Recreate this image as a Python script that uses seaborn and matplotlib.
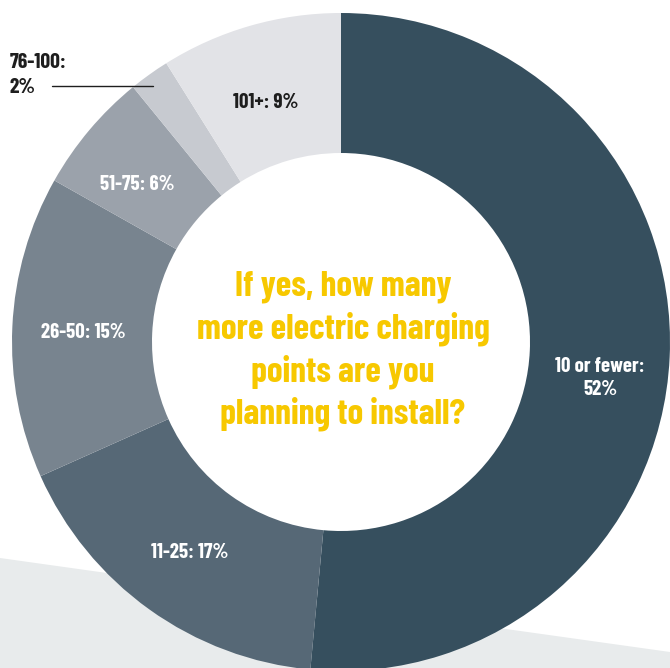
import matplotlib
matplotlib.use("Agg")
import matplotlib.pyplot as plt
import seaborn as sns
from matplotlib.patches import Polygon

categories = ["10 or fewer", "11-25", "26-50", "51-75", "76-100", "101+"]
values = [52, 17, 15, 6, 2, 9]
label_texts = ["10 or fewer:\n52%", "11-25: 17%", "26-50: 15%", "51-75: 6%", "76-100:\n2%", "101+: 9%"]
title_text = "If yes, how many\nmore electric charging\npoints are you\nplanning to install?"

sns.set_theme(style="white")
plt.rcParams['font.family'] = ["Barlow Condensed", "DejaVu Sans"]

colors = ["#364f5e", "#566876", "#78848f", "#9ba2ab", "#c7cad0", "#e2e3e7"]

W, H = 670, 668
fig = plt.figure(figsize=(W / 100, H / 100), dpi=100)
ax = fig.add_axes([0, 0, 1, 1])

# background light band
ax.add_patch(Polygon([(0, H - 558), (W, H - 652), (W, 0), (0, 0)], closed=True,
                     facecolor="#e8ebec", edgecolor="none", zorder=0))

cx, cy = 341, H - 342
R, r = 329, 189
wedges, _ = ax.pie(values, colors=colors, startangle=90, counterclock=False,
                   center=(cx, cy), radius=R, frame=True,
                   wedgeprops=dict(width=R - r, edgecolor="none", linewidth=0))
ax.set_xlim(0, W)
ax.set_ylim(0, H)
ax.set_aspect("equal")
ax.axis("off")

pos = [(600, 378), (190, 552), (83, 332), (137, 184), None, (266, 102)]
tcol = ["white", "white", "white", "white", "#1e1e1e", "#1e1e1e"]
for i, p in enumerate(pos):
    if p is None:
        continue
    ax.text(p[0], H - p[1], label_texts[i], ha="center", va="center", color=tcol[i],
            fontsize=15, fontweight="bold", linespacing=1.28, zorder=5)

ax.text(10, H - 75, label_texts[4], ha="left", va="center", color="#1e1e1e",
        fontsize=15.5, fontweight="bold", linespacing=1.4, zorder=5)
ax.plot([52, 153], [H - 86, H - 86], color="#1e1e1e", lw=1.0, zorder=5)

ax.text(cx + 2, H - 351, title_text, ha="center", va="center", color="#f7c800",
        fontsize=25.5, fontweight="bold", linespacing=1.3, zorder=5)

fig.savefig("out.png", dpi=100)
